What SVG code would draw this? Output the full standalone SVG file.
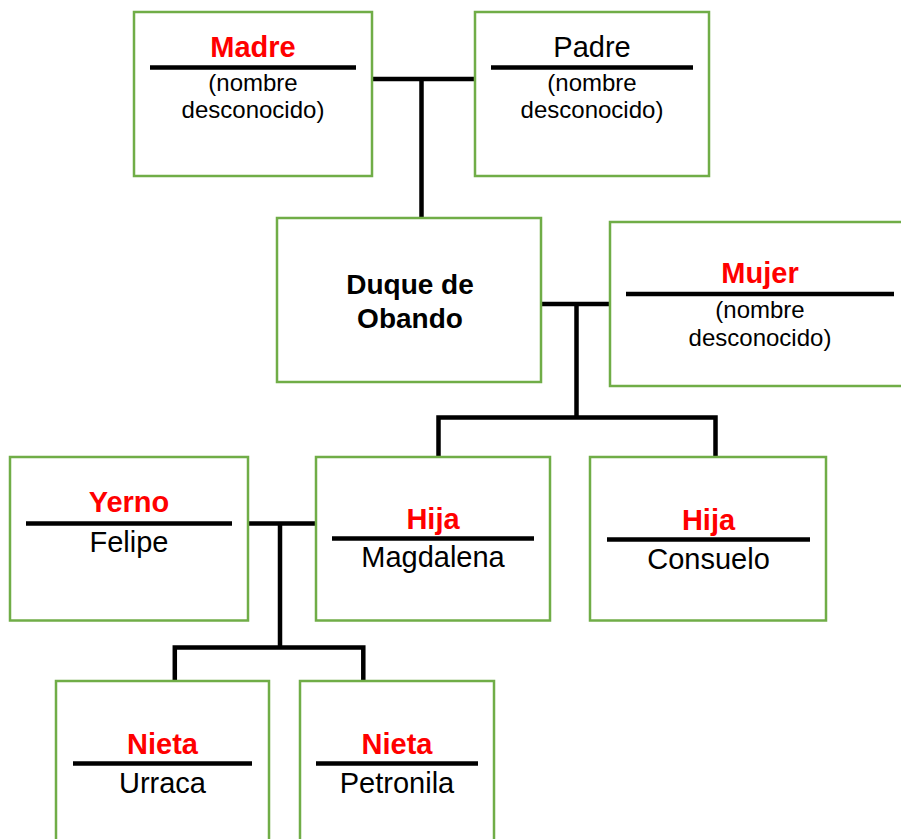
<svg xmlns="http://www.w3.org/2000/svg" width="901" height="839" viewBox="0 0 901 839">
<style>
.box{fill:#fff;stroke:#70AD47;stroke-width:2.5}
.sep{stroke:#000;stroke-width:4.5}
.con{fill:none;stroke:#000;stroke-width:4.5;stroke-linejoin:miter}
text{font-family:"Liberation Sans",Arial,sans-serif;text-anchor:middle}
.t{font-size:29px;font-weight:bold;fill:#FF0000}
.n{font-size:29px;fill:#000}
.s{font-size:24px;fill:#000}
.d{font-size:28px;font-weight:bold;fill:#000}
</style>
<rect width="901" height="839" fill="#fff"/>
<g id="connectors">
<path class="con" d="M372,79 H475 M421.5,79 V218"/>
<path class="con" d="M541,304 H610 M576.5,304 V417.5"/>
<path class="con" d="M438.5,457 V417.5 H715.5 V457"/>
<path class="con" d="M248,523.5 H316 M280,523.5 V647.5"/>
<path class="con" d="M174.8,681 V647.5 H363.3 V681"/>
</g>
<g id="madre">
<rect class="box" x="134" y="12" width="238" height="164"/>
<text class="t" x="253" y="57">Madre</text>
<line class="sep" x1="150" y1="67.5" x2="356" y2="67.5"/>
<text class="s" x="253" y="91">(nombre</text>
<text class="s" x="253" y="118">desconocido)</text>
</g>
<g id="padre">
<rect class="box" x="475" y="12" width="234" height="164"/>
<text class="n" x="592" y="57">Padre</text>
<line class="sep" x1="491" y1="67.5" x2="693" y2="67.5"/>
<text class="s" x="592" y="91">(nombre</text>
<text class="s" x="592" y="118">desconocido)</text>
</g>
<g id="duque">
<rect class="box" x="277" y="218" width="264" height="164"/>
<text class="d" x="410" y="294">Duque de</text>
<text class="d" x="410" y="328">Obando</text>
</g>
<g id="mujer">
<rect class="box" x="610" y="222" width="300" height="164"/>
<text class="t" x="760" y="283">Mujer</text>
<line class="sep" x1="626" y1="294" x2="894" y2="294"/>
<text class="s" x="760" y="318">(nombre</text>
<text class="s" x="760" y="345.5">desconocido)</text>
</g>
<g id="yerno">
<rect class="box" x="10" y="457" width="238" height="163.5"/>
<text class="t" x="129" y="512">Yerno</text>
<line class="sep" x1="26" y1="523.5" x2="232" y2="523.5"/>
<text class="n" x="129" y="552">Felipe</text>
</g>
<g id="magdalena">
<rect class="box" x="316" y="457" width="234" height="163.5"/>
<text class="t" x="433" y="529">Hija</text>
<line class="sep" x1="332" y1="538.5" x2="534" y2="538.5"/>
<text class="n" x="433" y="567">Magdalena</text>
</g>
<g id="consuelo">
<rect class="box" x="590" y="457" width="236" height="163.5"/>
<text class="t" x="708.5" y="529.5">Hija</text>
<line class="sep" x1="607" y1="539.5" x2="810" y2="539.5"/>
<text class="n" x="708.5" y="568.5">Consuelo</text>
</g>
<g id="urraca">
<rect class="box" x="56" y="681" width="213" height="175"/>
<text class="t" x="162.5" y="753.5">Nieta</text>
<line class="sep" x1="73" y1="763.5" x2="252" y2="763.5"/>
<text class="n" x="162.5" y="792.5">Urraca</text>
</g>
<g id="petronila">
<rect class="box" x="300" y="681" width="194" height="175"/>
<text class="t" x="397" y="753.5">Nieta</text>
<line class="sep" x1="316" y1="763.5" x2="478" y2="763.5"/>
<text class="n" x="397" y="792.5">Petronila</text>
</g>
</svg>
